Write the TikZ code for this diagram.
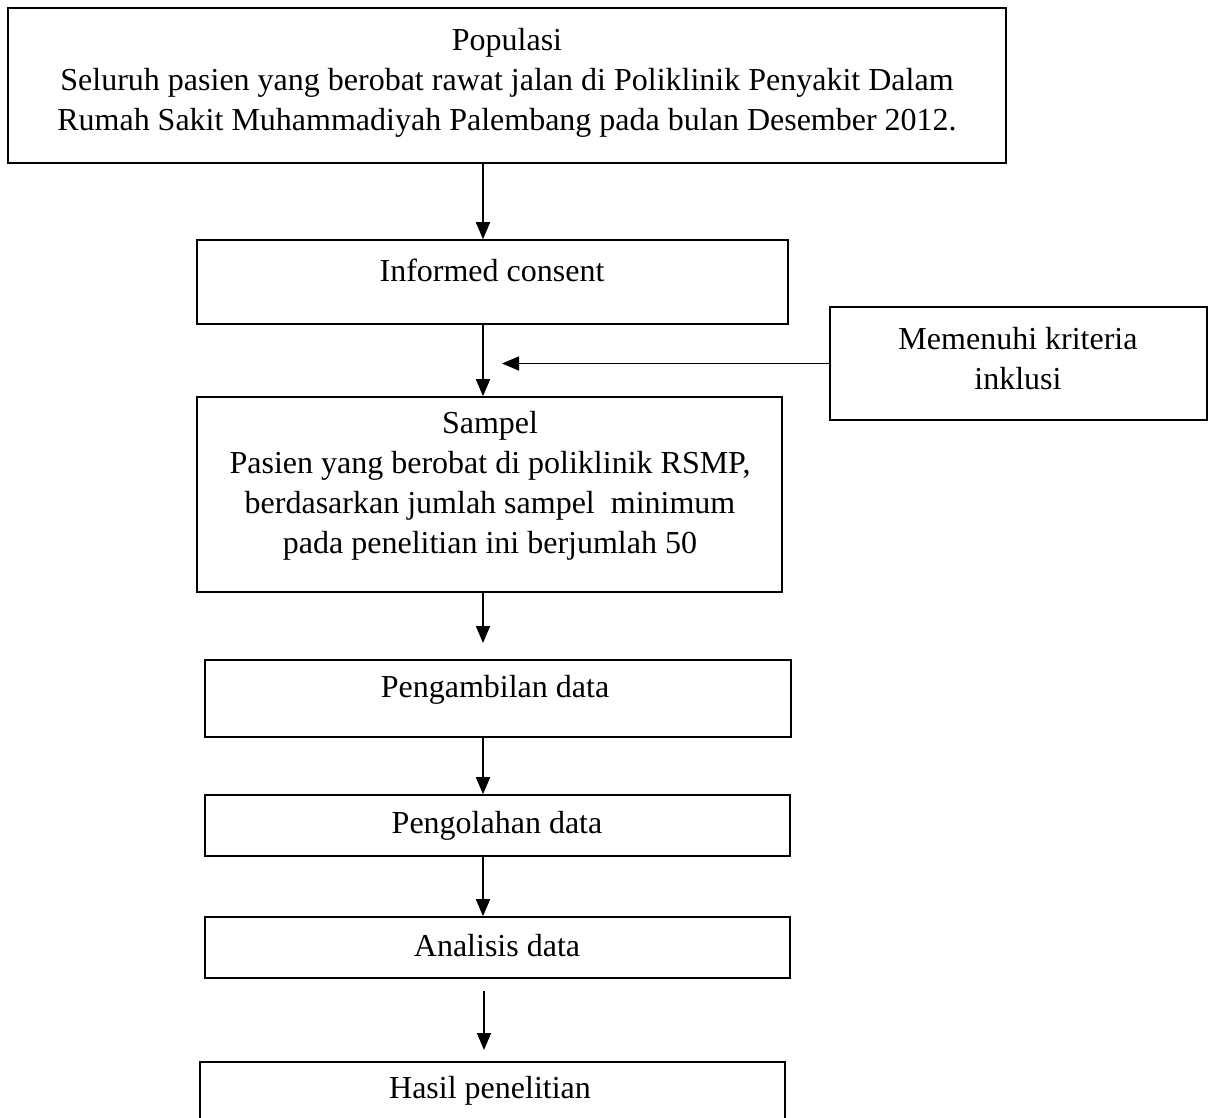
\documentclass[tikz,border=0pt]{standalone}
\usepackage{fontspec}
\setmainfont{Liberation Serif}
\usetikzlibrary{arrows.meta}
\begin{document}
\begin{tikzpicture}[x=1pt,y=-1pt,
  box/.style={draw=black, line width=1.6pt, rectangle, inner sep=0pt},
  lbl/.style={font=\fontsize{32}{40}\selectfont, align=center, inner sep=0pt, text=black},
  arr/.style={draw=black, line width=1.6pt, -{Triangle[length=17pt,width=14pt]}}]
\useasboundingbox (0,0) rectangle (1212,1118);
\clip (0,0) rectangle (1212,1118);
\fill[white] (0,0) rectangle (1212,1118);

% boxes
\node[box, minimum width=998pt, minimum height=155pt] (pop) at (507,85.5) {};
\node[box, minimum width=591pt, minimum height=84pt] (ic) at (492.5,282) {};
\node[box, minimum width=377pt, minimum height=113pt] (kr) at (1018.5,363.5) {};
\node[box, minimum width=585pt, minimum height=195pt] (sam) at (489.5,494.5) {};
\node[box, minimum width=586pt, minimum height=77pt] (pa) at (498,698.5) {};
\node[box, minimum width=585pt, minimum height=61pt] (po) at (497.5,825.5) {};
\node[box, minimum width=585pt, minimum height=61pt] (an) at (497.5,947.5) {};
\node[box, minimum width=585pt, minimum height=120pt] (ha) at (492.5,1122) {};

% texts
\node[lbl] (tpop) at (507,83) {Populasi\\Seluruh pasien yang berobat rawat jalan di Poliklinik Penyakit Dalam\\Rumah Sakit Muhammadiyah Palembang pada bulan Desember 2012.};
\node[lbl] (tic) at (492,270) {Informed consent};
\node[lbl] (tkr) at (1018,359) {Memenuhi kriteria\\inklusi};
\node[lbl] (tsam) at (490,486) {Sampel\\Pasien yang berobat di poliklinik RSMP,\\berdasarkan jumlah sampel~ minimum\\pada penelitian ini berjumlah 50};
\node[lbl] (tpa) at (495,690) {Pengambilan data};
\node[lbl] (tpo) at (497,826) {Pengolahan data};
\node[lbl] (tan) at (497,946) {Analisis data};
\node[lbl] (tha) at (490,1091) {Hasil penelitian};

% connectors
\coordinate (ax) at (483,0);
\coordinate (krtip) at (502,362);
\coordinate (samend) at (483,643);
\coordinate (anstart) at (484,991);
\coordinate (anend) at (484,1050);
\draw[arr] (pop.south -| ax) -- (ic.north -| ax);
\draw[arr] (ic.south -| ax) -- (sam.north -| ax);
\draw[arr] (kr.west) -- (kr.west -| krtip);
\draw[arr] (sam.south -| ax) -- (samend);
\draw[arr] (pa.south -| ax) -- (po.north -| ax);
\draw[arr] (po.south -| ax) -- (an.north -| ax);
\draw[arr] (anstart) -- (anend);
\end{tikzpicture}
\end{document}
